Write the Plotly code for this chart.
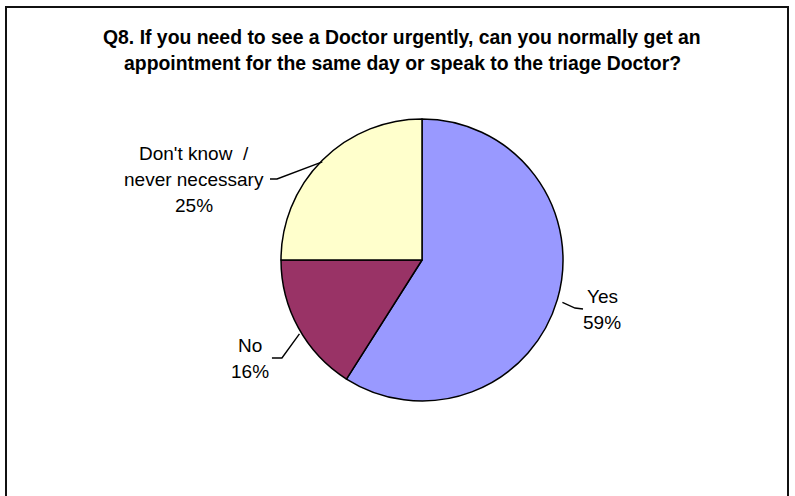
import math
import plotly.graph_objects as go

# ---- data ----
categories = ["Yes", "No", "Don't know  /<br>never necessary"]
values = [59, 16, 25]
colors = ["#9999FF", "#993366", "#FFFFCC"]
title_lines = [
    "Q8. If you need to see a Doctor urgently, can you normally get an",
    "appointment for the same day or speak to the triage Doctor?",
]

# ---- layout (pixels) ----
W, H = 795, 496
CX, CY, R = 422, 260, 141
# per slice, offsets relative to the slice's edge midpoint:
# (leader start, leader elbow, leader tail end, text-block centre)
label_offsets = [
    ((5, 3), (17.6, 8.7), (25.6, 9.7), (44.6, 10.2)),
    ((1, 6), (-16.5, 30), (-26.5, 30), (-48.5, 30.5)),
    ((0, 1.5), (-45.3, 18.7), (-52.3, 18.7), (-128.3, 19.2)),
]
LINE_SPACING = 25.7
FONT = "Arial, Liberation Sans, sans-serif"


def px(x):
    return x / W


def py(y):
    return 1 - y / H


fig = go.Figure()
fig.add_trace(go.Pie(
    labels=[c.replace("<br>", " ") for c in categories],
    values=values,
    sort=False,
    direction="clockwise",
    rotation=0,
    textinfo="none",
    marker=dict(colors=colors, line=dict(color="#000000", width=1.5)),
    domain=dict(x=[px(CX - R), px(CX + R)], y=[py(CY + R), py(CY - R)]),
    showlegend=False,
))

shapes = []
annotations = []
total = sum(values)
cum = 0
for cat, v, offs in zip(categories, values, label_offsets):
    theta = 2 * math.pi * (cum + v / 2) / total
    cum += v
    ex = CX + R * math.sin(theta)
    ey = CY - R * math.cos(theta)
    start, elb, tail, txt = offs
    pts = [(ex + o[0], ey + o[1]) for o in (start, elb, tail)]
    path = "M " + " L ".join(f"{px(x):.5f},{py(y):.5f}" for x, y in pts)
    shapes.append(dict(type="path", path=path, xref="paper", yref="paper",
                       line=dict(color="#000000", width=1.4)))
    lines = cat.split("<br>") + [f"{round(100 * v / total)}%"]
    n = len(lines)
    for i, ln in enumerate(lines):
        annotations.append(dict(
            x=px(ex + txt[0]), y=py(ey + txt[1] + (i - (n - 1) / 2) * LINE_SPACING),
            xref="paper", yref="paper",
            text=ln, showarrow=False,
            xanchor="center", yanchor="middle", align="center",
            font=dict(family=FONT, size=19, color="#000000"),
        ))

# chart frame (bottom edge falls outside the image)
shapes.append(dict(type="rect", xref="paper", yref="paper",
                   x0=px(6), x1=px(788), y0=py(540), y1=py(7),
                   line=dict(color="#111111", width=2)))

for i, line in enumerate(title_lines):
    annotations.append(dict(
        x=px(402), y=py(37 + 26.3 * i), xref="paper", yref="paper",
        text=f"<b>{line}</b>", showarrow=False, xanchor="center", yanchor="middle",
        font=dict(family=FONT, size=19.4, color="#000000"),
    ))

fig.update_layout(
    width=W, height=H, autosize=False,
    margin=dict(l=0, r=0, t=0, b=0),
    paper_bgcolor="#FFFFFF", plot_bgcolor="#FFFFFF",
    shapes=shapes, annotations=annotations,
)

fig.write_html("out.html")
